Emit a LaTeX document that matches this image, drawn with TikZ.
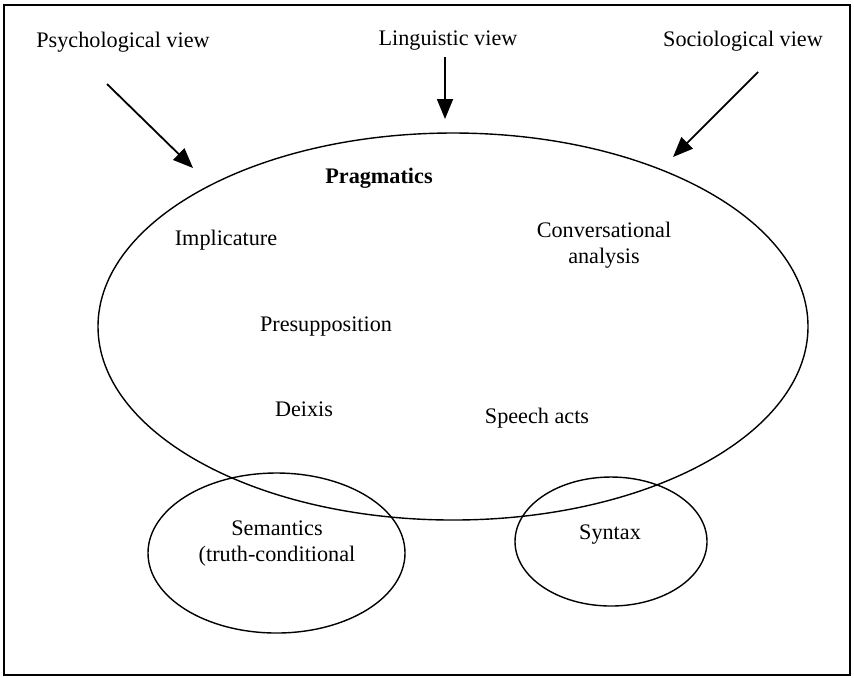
\documentclass[tikz,border=0pt]{standalone}
\usepackage{fontspec}
\setmainfont{Liberation Serif}
\usetikzlibrary{arrows.meta, shapes.geometric}

\begin{document}
\begin{tikzpicture}[x=0.5pt, y=-0.5pt,
			field/.style={draw, ellipse, inner sep=0pt, line width=0.7pt},
			term/.style={align=center, inner sep=1pt, font=\fontsize{11.1}{13}\selectfont},
			arrow/.style={-{Triangle[length=10pt, width=8pt]}, line width=0.9pt}
			]
			\useasboundingbox (0,0) rectangle (854,677);
			\draw[line width=0.9pt] (4,5) rectangle (850,675);
			
			\node[field, minimum width=355pt, minimum height=193.5pt] (prag) at (453,326.5) {};
			\node[field, minimum width=128.5pt, minimum height=80pt] (sem) at (276.5,553) {};
			\node[field, minimum width=96pt, minimum height=64.5pt] (syn) at (611,541.5) {};
			
			\node[term] (psych) at (123,42) {Psychological view};
			\node[term] (ling) at (448,41) {Linguistic view};
			\node[term] (soc) at (743,41) {Sociological view};
			
			\node[term, font=\fontsize{11.1}{13}\selectfont\bfseries] (pragtitle) at (379,178) {Pragmatics};
			\node[term] (impl) at (226,240) {Implicature};
			\node[term] (conv) at (604,245) {Conversational\\analysis};
			\node[term] (presup) at (326,326) {Presupposition};
			\node[term] (deixis) at (304,409) {Deixis};
			\node[term] (speech) at (537,418) {Speech acts};
			\node[term] (semtext) at (277,543) {Semantics\\(truth-conditional};
			\node[term] (syntext) at (610,535) {Syntax};
			
			\coordinate (psychtail) at (107,84);
			\coordinate (psychtip) at (193,168);
			\coordinate (lingtail) at (445,57);
			\coordinate (lingtip) at (445,119);
			\coordinate (soctail) at (758,72);
			\coordinate (soctip) at (673,157);
			
			\draw[arrow] (psychtail) -- (psychtip);
			\draw[arrow] (lingtail) -- (lingtip);
			\draw[arrow] (soctail) -- (soctip);
	\end{tikzpicture}
\end{document}
